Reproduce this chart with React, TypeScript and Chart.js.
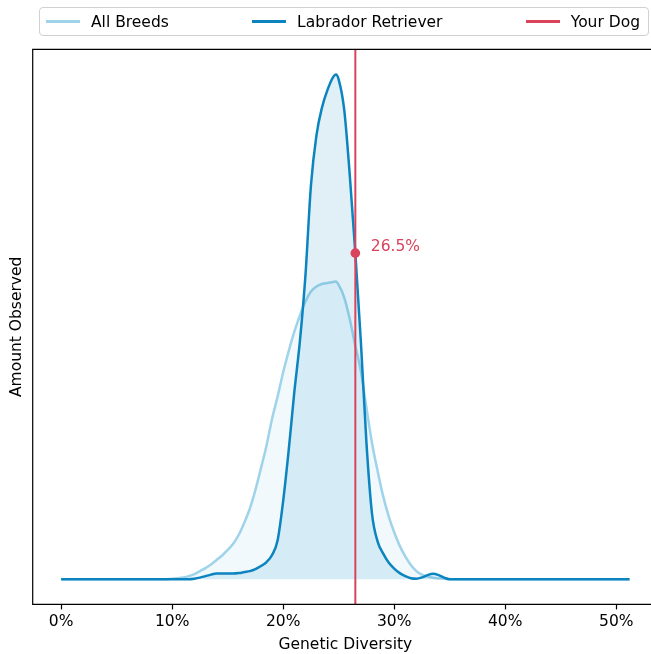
import React, { useEffect, useRef } from "react";
import { Chart, registerables } from "chart.js";

Chart.register(...registerables);

// ---- Data ----
const diversityPct = [
  0, 5, 9,
  10, 10.5, 11, 11.5, 12, 12.5, 13, 13.5, 14, 14.5, 15, 15.5, 16, 16.5, 17, 17.5,
  18, 18.5, 19, 19.5, 20, 20.5, 21, 21.5, 22, 22.5, 23, 23.5, 24, 24.5,
  24.75,
  25, 25.5, 26, 26.5, 27, 27.5, 28, 28.5, 29, 29.5, 30, 30.5, 31, 31.5, 32, 32.5,
  33, 33.5, 34, 34.5, 35,
  36, 40, 45, 51.2,
];

const allBreeds = [
  0, 0, 0,
  0.001, 0.002, 0.0035, 0.006, 0.01, 0.016, 0.022, 0.029, 0.038, 0.047, 0.058, 0.07, 0.088, 0.112, 0.14, 0.177,
  0.22, 0.265, 0.318, 0.362, 0.41, 0.452, 0.49, 0.522, 0.55, 0.57, 0.58, 0.585, 0.587, 0.589,
  0.59,
  0.583, 0.558, 0.515, 0.462, 0.412, 0.34, 0.27, 0.215, 0.165, 0.125, 0.093, 0.066, 0.045, 0.028, 0.016, 0.009,
  0.005, 0.003, 0.0015, 0.001, 0,
  0, 0, 0, 0,
];

const labrador = [
  0, 0, 0,
  0, 0, 0, 0, 0.001, 0.003, 0.006, 0.009, 0.011, 0.011, 0.011, 0.011, 0.012, 0.014, 0.016, 0.02,
  0.026, 0.034, 0.048, 0.077, 0.155, 0.256, 0.37, 0.47, 0.6, 0.78, 0.88, 0.935, 0.97, 0.995,
  1.0,
  0.99, 0.93, 0.8, 0.646, 0.47, 0.27, 0.13, 0.075, 0.051, 0.033, 0.021, 0.012, 0.006, 0.002, 0.001, 0.0035,
  0.008, 0.0105, 0.008, 0.003, 0,
  0, 0, 0, 0,
];

const xTickValues = [0, 10, 20, 30, 40, 50];
const yourDogPct = 26.5;
const yourDogDensity = 0.646;
const seriesNames = ["All Breeds", "Labrador Retriever", "Your Dog"];
const seriesColors = ["#9fd3ea", "#0b84c0", "#d9435b"];
const fillColors = ["rgba(159,211,234,0.14)", "rgba(11,132,192,0.12)"];

const FONT = '"DejaVu Sans", "Liberation Sans", sans-serif';
const FS = 15.5;

export default function App() {
  const ref = useRef<HTMLCanvasElement>(null);

  useEffect(() => {
    document.body.style.margin = "0";
    const canvas = ref.current;
    if (!canvas) return;

    const framePlugin = {
      id: "frame",
      afterDraw(chart: any) {
        const { ctx, chartArea } = chart;
        ctx.save();
        ctx.strokeStyle = "#000";
        ctx.lineWidth = 1.2;
        ctx.beginPath();
        ctx.moveTo(chartArea.left, chartArea.bottom);
        ctx.lineTo(chartArea.left, chartArea.top);
        ctx.lineTo(chartArea.right, chartArea.top);
        ctx.lineTo(chartArea.right, chartArea.bottom);
        ctx.closePath();
        ctx.stroke();
        ctx.restore();
      },
    };

    const dogLabelPlugin = {
      id: "dogLabel",
      afterDatasetsDraw(chart: any) {
        const { ctx, scales } = chart;
        const px = scales.x.getPixelForValue(yourDogPct);
        const py = scales.y.getPixelForValue(yourDogDensity);
        ctx.save();
        ctx.font = `${FS}px ${FONT}`;
        ctx.fillStyle = seriesColors[2];
        ctx.textAlign = "left";
        ctx.textBaseline = "middle";
        ctx.fillText(`${yourDogPct}%`, px + 15.5, py - 6);
        ctx.restore();
      },
    };

    const chart = new Chart(canvas, {
      type: "line",
      data: {
        datasets: [
          {
            label: seriesNames[1],
            data: diversityPct.map((x, i) => ({ x, y: labrador[i] })),
            borderColor: seriesColors[1],
            backgroundColor: fillColors[1],
            borderWidth: 2.5,
            fill: "origin",
            pointRadius: 0,
            pointHoverRadius: 0,
            cubicInterpolationMode: "monotone",
            order: 2,
          },
          {
            label: seriesNames[0],
            data: diversityPct.map((x, i) => ({ x, y: allBreeds[i] })),
            borderColor: seriesColors[0],
            backgroundColor: fillColors[0],
            borderWidth: 2.5,
            fill: "origin",
            pointRadius: 0,
            pointHoverRadius: 0,
            cubicInterpolationMode: "monotone",
            order: 3,
          },
          {
            label: seriesNames[2],
            data: [
              { x: yourDogPct, y: -0.05 },
              { x: yourDogPct, y: 1.05 },
            ],
            borderColor: seriesColors[2],
            borderWidth: 2,
            pointRadius: 0,
            pointHoverRadius: 0,
            fill: false,
            order: 1,
          },
          {
            label: "Your Dog marker",
            data: [{ x: yourDogPct, y: yourDogDensity }],
            showLine: false,
            pointRadius: 4.8,
            pointHoverRadius: 4.8,
            pointBackgroundColor: seriesColors[2],
            pointBorderColor: seriesColors[2],
            pointBorderWidth: 0,
            order: 0,
          } as any,
        ],
      },
      options: {
        responsive: true,
        maintainAspectRatio: false,
        animation: false,
        events: [],
        layout: { autoPadding: false, padding: { top: 49.3, left: 0, right: 0, bottom: 0 } },
        plugins: {
          legend: { display: false },
          tooltip: { enabled: false },
        },
        scales: {
          x: {
            type: "linear",
            min: -2.56,
            max: 53.76,
            afterBuildTicks: (scale: any) => {
              scale.ticks = xTickValues.map((v) => ({ value: v }));
            },
            ticks: {
              callback: (v: any) => `${v}%`,
              color: "#000",
              font: { size: FS, family: FONT },
              padding: 3.7,
              maxRotation: 0,
            },
            grid: {
              display: true,
              drawOnChartArea: false,
              drawTicks: true,
              tickLength: 5,
              tickColor: "#000",
              tickWidth: 1.2,
              color: "#000",
            },
            border: { display: false },
            title: {
              display: true,
              text: "Genetic Diversity",
              color: "#000",
              font: { size: FS, family: FONT },
              padding: { top: 0, bottom: 0 },
            },
          },
          y: {
            type: "linear",
            min: -0.05,
            max: 1.05,
            ticks: { display: false },
            grid: { display: false, drawTicks: false },
            border: { display: false },
            title: {
              display: true,
              text: "Amount Observed",
              color: "#000",
              font: { size: FS, family: FONT },
              padding: { top: 7.2, bottom: 6.9 },
            },
          },
        },
      },
      plugins: [framePlugin, dogLabelPlugin],
    } as any);

    return () => chart.destroy();
  }, []);

  return (
    <div
      style={{
        position: "fixed",
        left: 0,
        top: 0,
        width: 651,
        height: 654,
        overflow: "hidden",
        background: "#fff",
        fontFamily: FONT,
      }}
    >
      <div style={{ position: "absolute", left: 0, top: 0, width: 658, height: 654 }}>
        <canvas ref={ref} />
      </div>
      <div
        style={{
          position: "absolute",
          left: 39,
          top: 7,
          width: 610,
          height: 29,
          boxSizing: "border-box",
          border: "1px solid #d0d0d0",
          borderRadius: 4,
          display: "flex",
          alignItems: "center",
          justifyContent: "space-between",
          padding: "0 8px 0 6px",
          fontSize: FS,
          color: "#000",
          background: "rgba(255,255,255,0.8)",
        }}
      >
        {seriesNames.map((name, i) => (
          <div key={name} style={{ display: "flex", alignItems: "center" }}>
            <span
              style={{
                display: "inline-block",
                width: 34,
                height: 2.4,
                background: seriesColors[i],
                marginRight: 11,
              }}
            />
            <span style={{ lineHeight: "18px" }}>{name}</span>
          </div>
        ))}
      </div>
    </div>
  );
}
